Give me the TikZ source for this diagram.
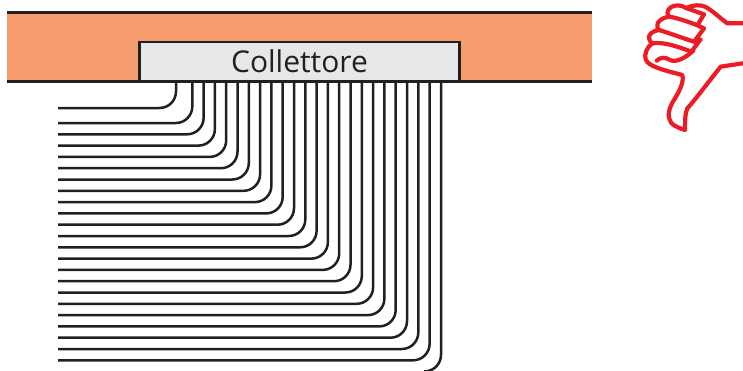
\documentclass[tikz,border=0pt]{standalone}
\usepackage{fontspec}
\setmainfont{Open Sans}
\definecolor{bandfill}{HTML}{F79C6C}
\definecolor{boxfill}{HTML}{E6E7E8}
\definecolor{ink}{HTML}{231F20}
\definecolor{handred}{HTML}{ED1C24}
\tikzset{
  edgeline/.style={draw=ink,line width=2.8pt},
  pipe/.style={draw=ink,line width=2.5pt,rounded corners=16.5pt},
  hand/.style={draw=handred,line width=4.2pt,line join=round,line cap=round}
}
\begin{document}
\begin{tikzpicture}[x=1pt,y=-1pt]
\useasboundingbox (0,0) rectangle (743,370);
\clip (0,0) rectangle (743,370);
\fill[bandfill] (7,12) rectangle (592,81);
\draw[edgeline] (7,12.5) -- (592,12.5);
\draw[edgeline] (7,81.2) -- (592,81.2);
\node[draw=ink,line width=2.8pt,fill=boxfill,minimum width=320pt,minimum height=39pt,inner sep=0pt,outer sep=0pt,anchor=north west,text=ink,font=\fontsize{30}{30}\selectfont] (coll) at (139.5,42) {Collettore};
% first pipe
\coordinate (t0) at (176,82);
\coordinate (l0) at (58,108);
\draw[pipe] (t0) -- (t0 |- l0) -- (l0);
\foreach \k in {1,...,22}{
  \pgfmathsetmacro{\xx}{192.3+(\k-1)*11.3}
  \pgfmathsetmacro{\yy}{123+(\k-1)*11.3}
  \coordinate (t\k) at (\xx,82);
  \coordinate (l\k) at (58,\yy);
  \draw[pipe] (t\k) -- (t\k |- l\k) -- (l\k);
}
% outermost pipe: its horizontal run lies below the picture edge
\coordinate (t23) at (441,82);
\coordinate (l23) at (424,371.4);
\draw[pipe] (t23) -- (t23 |- l23) -- (l23);
% thumbs-down hand
\begin{scope}[shift={(630,0)},x=0.3333pt,y=-0.3333pt]
\draw[hand] (338,70) -- (292,70) .. controls (265,50) and (245,30) .. (225,20)
  .. controls (210,13) and (190,15) .. (168,24)
  .. controls (155,15) and (135,13) .. (122,22)
  .. controls (110,32) and (110,42) .. (118,50)
  .. controls (98,52) and (78,65) .. (82,80)
  .. controls (82,85) and (84,88) .. (87,90)
  .. controls (68,92) and (52,105) .. (58,118)
  .. controls (60,125) and (63,127) .. (67,130)
  .. controls (50,140) and (42,165) .. (47,178)
  .. controls (55,200) and (100,210) .. (157,225)
  .. controls (162,245) and (150,270) .. (135,295)
  .. controls (115,325) and (110,350) .. (125,370)
  .. controls (135,380) and (150,385) .. (165,390)
  .. controls (165,365) and (165,340) .. (172,325)
  .. controls (195,300) and (240,240) .. (272,200)
  -- (338,190);
\draw[hand] (168,24) -- (222,43) -- (202,76);
\draw[hand] (118,50) .. controls (145,55) and (175,65) .. (202,76) -- (222,85) -- (192,125);
\draw[hand] (87,90) .. controls (120,100) and (160,115) .. (192,125) -- (212,118) -- (184,155);
\draw[hand] (67,130) .. controls (100,125) and (145,140) .. (184,155);
\draw[hand] (80,182) .. controls (90,172) and (105,170) .. (120,180)
  .. controls (140,190) and (170,170) .. (190,152);
\end{scope}
\end{tikzpicture}
\end{document}
